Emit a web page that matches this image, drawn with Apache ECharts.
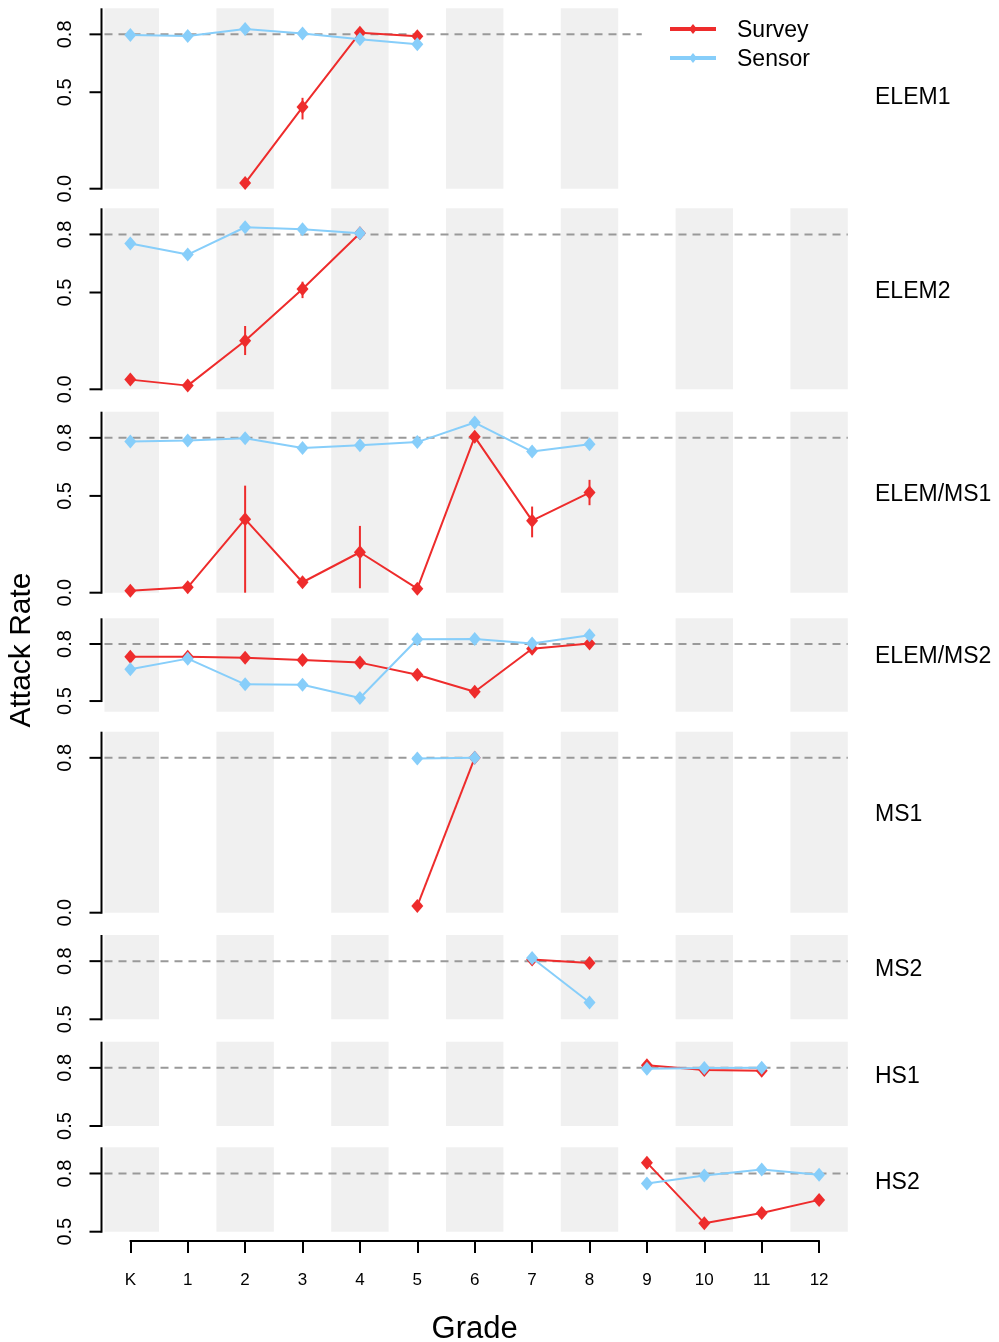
<!DOCTYPE html>
<html>
<head>
<meta charset="utf-8">
<script src="https://cdn.jsdelivr.net/npm/echarts@6/dist/echarts.min.js"></script>
<style>
html,body{margin:0;padding:0;background:#fff;}
#chart{width:999px;height:1342px;}
</style>
</head>
<body>
<div id="chart"></div>
<script>
// ---------------- DATA ----------------
const grades = ['K','1','2','3','4','5','6','7','8','9','10','11','12'];
const panelNames = ['ELEM1','ELEM2','ELEM/MS1','ELEM/MS2','MS1','MS2','HS1','HS2'];
const seriesNames = ['Survey','Sensor'];
const refLevel = 0.8;
const yMins = [0, 0, 0, 0.444, 0, 0.5, 0.5, 0.5];
const yMax = 0.935;
const yTicks = [[0,0.5,0.8],[0,0.5,0.8],[0,0.5,0.8],[0.5,0.8],[0,0.8],[0.5,0.8],[0.5,0.8],[0.5,0.8]];

const surveyELEM1   = [null, null, 0.029, 0.423, 0.808, 0.790, null, null, null, null, null, null, null];
const sensorELEM1   = [0.797, 0.792, 0.828, 0.804, 0.775, 0.749, null, null, null, null, null, null, null];
const surveyELEM2   = [0.050, 0.019, 0.251, 0.518, 0.806, null, null, null, null, null, null, null, null];
const sensorELEM2   = [0.753, 0.696, 0.837, 0.827, 0.806, null, null, null, null, null, null, null, null];
const surveyELEMMS1 = [0.010, 0.028, 0.380, 0.054, 0.209, 0.021, 0.805, 0.372, 0.517, null, null, null, null];
const sensorELEMMS1 = [0.781, 0.786, 0.798, 0.747, 0.762, 0.778, 0.879, 0.729, 0.767, null, null, null, null];
const surveyELEMMS2 = [0.733, 0.733, 0.728, 0.716, 0.702, 0.638, 0.549, 0.775, 0.802, null, null, null, null];
const sensorELEMMS2 = [0.667, 0.723, 0.588, 0.586, 0.516, 0.825, 0.826, 0.802, 0.846, null, null, null, null];
const surveyMS1     = [null, null, null, null, null, 0.035, 0.800, null, null, null, null, null, null];
const sensorMS1     = [null, null, null, null, null, 0.796, 0.800, null, null, null, null, null, null];
const surveyMS2     = [null, null, null, null, null, null, null, 0.809, 0.790, null, null, null, null];
const sensorMS2     = [null, null, null, null, null, null, null, 0.816, 0.587, null, null, null, null];
const surveyHS1     = [null, null, null, null, null, null, null, null, null, 0.813, 0.789, 0.785, null];
const sensorHS1     = [null, null, null, null, null, null, null, null, null, 0.795, 0.799, 0.800, null];
const surveyHS2     = [null, null, null, null, null, null, null, null, null, 0.856, 0.544, 0.596, 0.664];
const sensorHS2     = [null, null, null, null, null, null, null, null, null, 0.748, 0.790, 0.821, 0.794];

// survey error bars: [grade index, low, high]
const errELEM1   = [[3, 0.359, 0.471]];
const errELEM2   = [[2, 0.177, 0.327], [3, 0.471, 0.556]];
const errELEMMS1 = [[2, 0.0, 0.553], [4, 0.023, 0.345], [7, 0.286, 0.445], [8, 0.452, 0.583]];
const errELEMMS2 = [[4, 0.684, 0.720], [5, 0.612, 0.664], [6, 0.524, 0.574]];
const errMS1 = [], errMS2 = [], errHS1 = [], errHS2 = [];

const surveyAll = [surveyELEM1, surveyELEM2, surveyELEMMS1, surveyELEMMS2, surveyMS1, surveyMS2, surveyHS1, surveyHS2];
const sensorAll = [sensorELEM1, sensorELEM2, sensorELEMMS1, sensorELEMMS2, sensorMS1, sensorMS2, sensorHS1, sensorHS2];
const errAll = [errELEM1, errELEM2, errELEMMS1, errELEMMS2, errMS1, errMS2, errHS1, errHS2];

// ---------------- LAYOUT / STYLE ----------------
const FONT = '"Liberation Sans", Arial, Helvetica, sans-serif';
const RED = '#EE2C2C';
const BLUE = '#87CEFA';
const BAND = '#F0F0F0';
const X_MIN = -0.45, X_MAX = 12.5;
const GRID_LEFT = 104.5, GRID_W = 743.3;
const layout = [
  {top: 8.3, h: 180.4}, {top: 208.3, h: 181}, {top: 411.7, h: 181}, {top: 618.3, h: 93.4},
  {top: 731.7, h: 181}, {top: 935, h: 84.3}, {top: 1041.7, h: 84.3}, {top: 1147.3, h: 84.4}
];
const labelY = [98, 292, 495, 657, 815, 970, 1077, 1183];

const grids = [], xAxes = [], yAxes = [], series = [], graphics = [];

layout.forEach((L, i) => {
  const yMin = yMins[i];
  const ticks = yTicks[i];
  grids.push({left: GRID_LEFT, top: L.top, width: GRID_W, height: L.h});
  xAxes.push({type: 'value', gridIndex: i, min: X_MIN, max: X_MAX, show: false});
  yAxes.push({
    type: 'value', gridIndex: i, min: yMin, max: yMax, offset: 3,
    splitLine: {show: false},
    axisLine: {show: false},
    axisTick: {show: false},
    axisLabel: {show: true, customValues: ticks, rotate: 90, margin: 26,
      formatter: v => v.toFixed(1), fontSize: 20, color: '#000', fontFamily: FONT}
  });

  // bands (even grades); ELEM1 panel only up to grade 8
  const lastBand = i === 0 ? 8 : 12;
  const bandData = [];
  for (let g = 0; g <= lastBand; g += 2) bandData.push([Math.max(X_MIN, g - 0.5), Math.min(X_MAX, g + 0.5)]);
  series.push({
    type: 'custom', xAxisIndex: i, yAxisIndex: i, silent: true, z: 1,
    data: bandData,
    renderItem: (params, api) => {
      const p0 = api.coord([api.value(0), yMax]);
      const p1 = api.coord([api.value(1), yMin]);
      return {type: 'rect', shape: {x: p0[0], y: p0[1], width: p1[0] - p0[0], height: p1[1] - p0[1]}, style: {fill: BAND}};
    }
  });
  // dashed reference line
  const dashEnd = i === 0 ? 8.91 : X_MAX;
  series.push({
    type: 'custom', xAxisIndex: i, yAxisIndex: i, silent: true, z: 2,
    data: [[X_MIN, dashEnd]],
    renderItem: (params, api) => {
      const p0 = api.coord([api.value(0), refLevel]);
      const p1 = api.coord([api.value(1), refLevel]);
      return {type: 'line', shape: {x1: p0[0], y1: p0[1], x2: p1[0], y2: p1[1]},
        style: {stroke: '#999999', lineWidth: 2, lineDash: [8, 6]}};
    }
  });
  // y axis line (lowest tick to top) with tick marks
  series.push({
    type: 'custom', xAxisIndex: i, yAxisIndex: i, silent: true, z: 3, clip: false,
    data: [[X_MIN, ticks[0], yMax]],
    renderItem: (params, api) => {
      const p0 = api.coord([api.value(0), api.value(1)]);
      const p1 = api.coord([api.value(0), api.value(2)]);
      const ax = p0[0] - 3;
      const children = [{type: 'line', shape: {x1: ax, y1: p0[1] + 1, x2: ax, y2: p1[1]},
        style: {stroke: '#000', lineWidth: 2}}];
      ticks.forEach(t => {
        const pt = api.coord([api.value(0), t]);
        children.push({type: 'line', shape: {x1: ax - 12, y1: pt[1], x2: ax, y2: pt[1]},
          style: {stroke: '#000', lineWidth: 2}});
      });
      return {type: 'group', children: children};
    }
  });
  // error bars
  series.push({
    type: 'custom', xAxisIndex: i, yAxisIndex: i, silent: true, z: 4, clip: false,
    data: errAll[i],
    renderItem: (params, api) => {
      const p0 = api.coord([api.value(0), api.value(1)]);
      const p1 = api.coord([api.value(0), api.value(2)]);
      return {type: 'line', shape: {x1: p0[0], y1: p0[1], x2: p1[0], y2: p1[1]},
        style: {stroke: RED, lineWidth: 2}};
    }
  });
  const toPts = arr => arr.map((v, k) => v == null ? null : [k, v]).filter(Boolean);
  series.push({
    name: 'Survey', type: 'line', xAxisIndex: i, yAxisIndex: i, z: 5, clip: false,
    data: toPts(surveyAll[i]), symbol: 'diamond', symbolSize: [12, 14], showSymbol: true,
    lineStyle: {color: RED, width: 2}, itemStyle: {color: RED}, animation: false
  });
  series.push({
    name: 'Sensor', type: 'line', xAxisIndex: i, yAxisIndex: i, z: 6, clip: false,
    data: toPts(sensorAll[i]), symbol: 'diamond', symbolSize: [12, 14], showSymbol: true,
    lineStyle: {color: BLUE, width: 2}, itemStyle: {color: BLUE}, animation: false
  });
  // panel name on right
  graphics.push({
    type: 'text', x: 875, y: labelY[i],
    style: {text: panelNames[i], fontSize: 23, fontFamily: FONT, fill: '#000', verticalAlign: 'middle'}
  });
});

// bottom grade axis
const bi = layout.length;
grids.push({left: 130.3, top: 1240.7, width: 688.8, height: 1});
xAxes.push({
  type: 'value', gridIndex: bi, min: 0, max: grades.length - 1, interval: 1, position: 'bottom',
  axisLine: {show: true, lineStyle: {color: '#000', width: 2}},
  axisTick: {show: true, length: 12, lineStyle: {color: '#000', width: 2}},
  axisLabel: {formatter: v => grades[v], fontSize: 17, color: '#000', fontFamily: FONT, margin: 31},
  splitLine: {show: false},
  name: 'Grade', nameLocation: 'middle', nameGap: 73,
  nameTextStyle: {fontSize: 31, color: '#000', fontFamily: FONT}
});
yAxes.push({type: 'value', gridIndex: bi, show: false, min: 0, max: 1});

// y title
graphics.push({
  type: 'text', x: 22, y: 650, rotation: Math.PI / 2,
  style: {text: 'Attack Rate', fontSize: 30, fontFamily: FONT, fill: '#000', align: 'center', verticalAlign: 'middle'}
});

// legend (drawn)
[[RED, 29], [BLUE, 58]].forEach(([c, y], k) => {
  graphics.push({type: 'line', shape: {x1: 670, y1: y, x2: 716, y2: y}, style: {stroke: c, lineWidth: 4}});
  graphics.push({type: 'polygon', shape: {points: [[693, y - 5], [697, y], [693, y + 5], [689, y]]}, style: {fill: c}});
  graphics.push({type: 'text', x: 737, y: y + 2,
    style: {text: seriesNames[k], fontSize: 23, fontFamily: FONT, fill: '#000', verticalAlign: 'middle'}});
});

const chart = echarts.init(document.getElementById('chart'), null, {renderer: 'canvas'});
chart.setOption({
  animation: false,
  backgroundColor: '#ffffff',
  grid: grids, xAxis: xAxes, yAxis: yAxes, series: series,
  graphic: graphics
});
</script>
</body>
</html>
